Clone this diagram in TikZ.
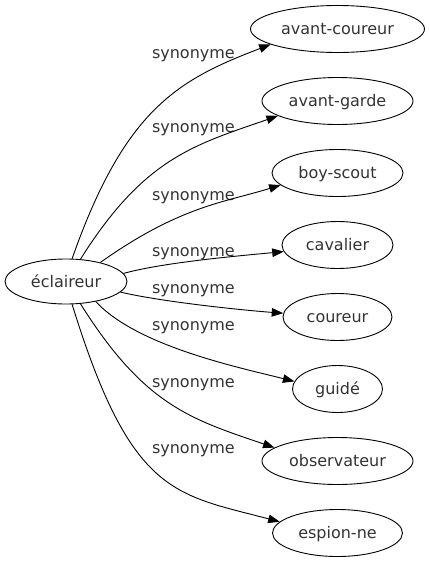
\documentclass[tikz,border=0pt]{standalone}
\usepackage{fontspec}
\setmainfont{DejaVu Sans}
\usetikzlibrary{shapes.geometric,arrows.meta,positioning}

\begin{document}
\begin{tikzpicture}[x=1pt, y=-1pt, node distance=72pt,
    font=\fontsize{16}{19}\selectfont, line width=0.9pt,
    word/.style={ellipse, draw, text=black!80, inner sep=0pt, minimum height=47pt, text height=12pt, text depth=0.5pt},
    syn/.style={text=black!80, inner sep=0pt, anchor=base},
    rel/.style={-{Triangle[length=11.5pt, width=8.5pt]}}]
    \useasboundingbox (0,0) rectangle (429,563);

    % Source word
    \node[word, minimum width=122pt, minimum height=45pt] (s0) at (66,281.5) {éclaireur};

    % Synonyms
    \node[word, minimum width=174pt] (t1) at (337.5,29) {avant-coureur};
    \node[word, minimum width=151pt, below of=t1] (t2) {avant-garde};
    \node[word, minimum width=131pt, below of=t2] (t3) {boy-scout};
    \node[word, minimum width=111pt, below of=t3] (t4) {cavalier};
    \node[word, minimum width=109pt, below of=t4] (t5) {coureur};
    \node[word, minimum width=90pt, below of=t5] (t6) {guidé};
    \node[word, minimum width=151pt, below of=t6] (t7) {observateur};
    \node[word, minimum width=130pt, below of=t7] (t8) {espion-ne};

    % Edge labels
    \node[syn] (l1) at (193.4,58.3) {synonyme};
    \node[syn] (l2) at (193.4,132) {synonyme};
    \node[syn] (l3) at (193.4,200) {synonyme};
    \node[syn] (l4) at (193.4,256) {synonyme};
    \node[syn] (l5) at (193.4,293) {synonyme};
    \node[syn] (l6) at (193.4,330.7) {synonyme};
    \node[syn] (l7) at (193.4,387) {synonyme};
    \node[syn] (l8) at (193.4,453) {synonyme};

    % Connections
    \draw[rel] (s0.75) .. controls (125,108) and (179,79.5) .. (t1.193.6);
    \draw[rel] (s0.57) .. controls (144,158) and (194,145) .. (t2.194);
    \draw[rel] (s0.29) .. controls (180,206) and (224,202.5) .. (t3.192.7);
    \draw[rel] (s0.8) .. controls (163,262.5) and (237,256) .. (t4.187);
    \draw[rel] (s0.-11) .. controls (160,301.5) and (240,310) .. (t5.176);
    \draw[rel] (s0.-34) .. controls (137,346) and (237,367) .. (t6.170);
    \draw[rel] (s0.-57) .. controls (144,405) and (190,419) .. (t7.168);
    \draw[rel] (s0.-75) .. controls (131,495) and (174,494) .. (t8.169);
\end{tikzpicture}
\end{document}
